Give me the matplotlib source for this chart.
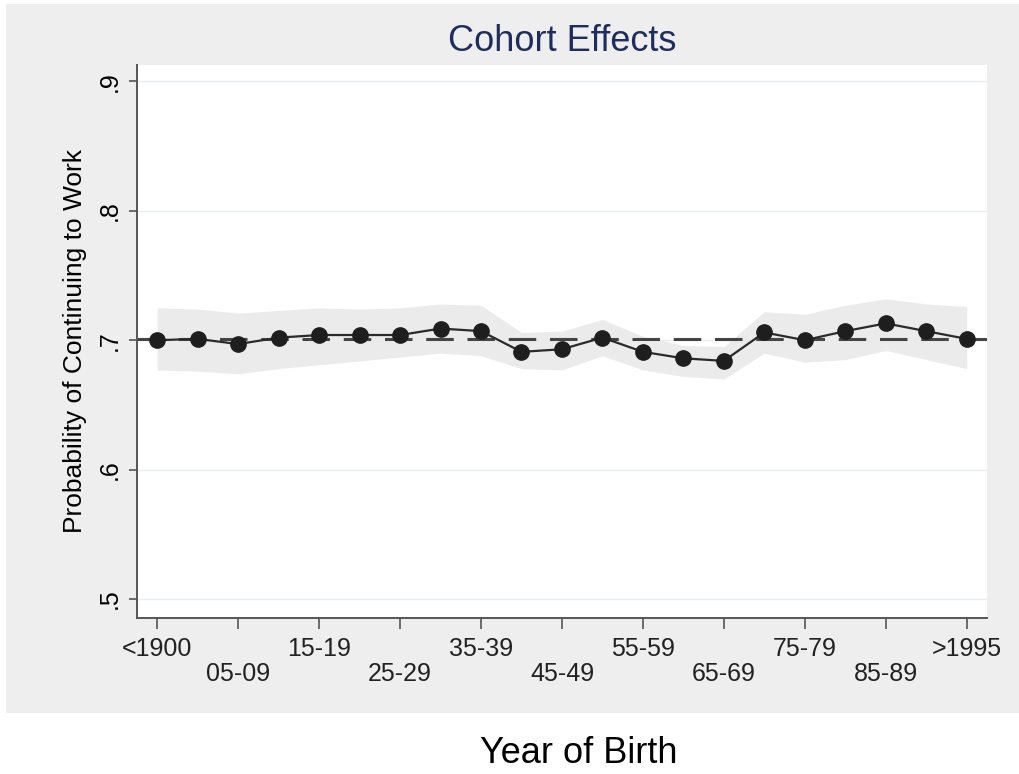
import matplotlib
matplotlib.use("Agg")
import matplotlib.pyplot as plt
from matplotlib.patches import Rectangle

plt.rcParams['font.family'] = ['Liberation Sans', 'DejaVu Sans']

cohorts = ["<1900", "00-04", "05-09", "10-14", "15-19", "20-24", "25-29", "30-34",
           "35-39", "40-44", "45-49", "50-54", "55-59", "60-64", "65-69", "70-74",
           "75-79", "80-84", "85-89", "90-94", ">1995"]
prob = [0.700, 0.701, 0.697, 0.702, 0.704, 0.704, 0.704, 0.709, 0.707, 0.691, 0.693,
        0.702, 0.691, 0.686, 0.684, 0.706, 0.700, 0.707, 0.713, 0.707, 0.701]
ci_hi = [0.725, 0.724, 0.721, 0.723, 0.725, 0.724, 0.725, 0.728, 0.727, 0.706, 0.707,
         0.716, 0.703, 0.696, 0.695, 0.722, 0.720, 0.727, 0.732, 0.728, 0.726]
ci_lo = [0.677, 0.676, 0.674, 0.678, 0.681, 0.684, 0.687, 0.690, 0.688, 0.678, 0.677,
         0.688, 0.677, 0.672, 0.670, 0.690, 0.683, 0.685, 0.692, 0.685, 0.678]
mean_prob = 0.701
yticks = [0.5, 0.6, 0.7, 0.8, 0.9]
ytick_labels = [".5", ".6", ".7", ".8", ".9"]

fig = plt.figure(figsize=(10.2, 7.74), dpi=100, facecolor="white")
bg = Rectangle((0.006, 0.079), 0.994, 0.916, transform=fig.transFigure,
               facecolor="#eeeeee", edgecolor="none", zorder=-10)
fig.add_artist(bg)

ax = fig.add_axes([0.1343, 0.2016, 0.8333, 0.7144])
ax.set_zorder(1)
ax.set_facecolor("white")
x = list(range(len(cohorts)))

for yt in yticks:
    ax.axhline(yt, color="#e6eef0", lw=1.0, zorder=0)
ax.fill_between(x, ci_lo, ci_hi, color="#ebebeb", lw=0, zorder=1)
ax.axhline(mean_prob, color="#444444", lw=2.2, dashes=(9, 4.5), zorder=2)
ax.plot(x, prob, color="#2a2a2a", lw=1.6, marker="o", markersize=11,
        markerfacecolor="#1e1e1e", markeredgecolor="#1e1e1e", zorder=3)

ax.set_xlim(-0.5, 20.5)
ax.set_ylim(0.4853, 0.9127)
for s in ["top", "right"]:
    ax.spines[s].set_visible(False)
for s in ["left", "bottom"]:
    ax.spines[s].set_color("#555555")
    ax.spines[s].set_linewidth(1.4)

ax.set_yticks(yticks)
ax.set_yticklabels(ytick_labels, rotation=90, va="center", fontsize=18)
ax.tick_params(axis="y", length=6, width=1.2, color="#555555", pad=5)

xt = x[::2]
labels = []
for i, k in enumerate(xt):
    labels.append(cohorts[k] if i % 2 == 0 else "\n" + cohorts[k])
ax.set_xticks(xt)
ax.set_xticklabels(labels, fontsize=18, linespacing=1.05, color="#222222")
ax.tick_params(axis="x", length=8, width=1.2, color="#555555", pad=6)

ax.set_ylabel("Probability of Continuing to Work", fontsize=19, labelpad=8)
ax.set_title("Cohort Effects", fontsize=26, color="#1f2d5c", pad=10)
fig.text(0.567, 0.014, "Year of Birth", fontsize=26, ha="center", va="baseline")

fig.savefig("out.png", dpi=100, facecolor="white")
